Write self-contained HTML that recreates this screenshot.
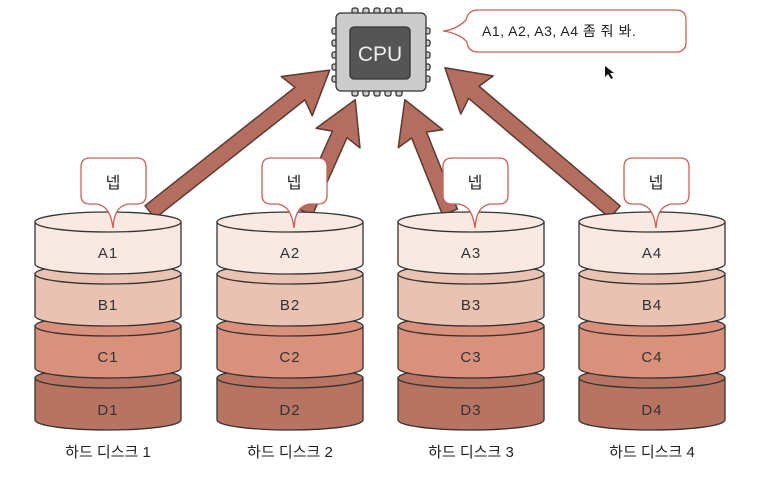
<!DOCTYPE html>
<html><head><meta charset="utf-8"><style>
body{margin:0;background:#fff;}
svg{display:block;font-family:"Liberation Sans","Noto Sans CJK KR",sans-serif;}
</style></head><body>
<svg width="774" height="478" viewBox="0 0 774 478" xmlns="http://www.w3.org/2000/svg">
<g fill="#b46e5f" stroke="#5a3a32" stroke-width="1.5" stroke-linejoin="round">
<g transform="translate(150,212) rotate(-38.3)"><polygon points="0,-8 191,-8 187,-25 229,0 187,25 191,8 0,8"/></g>
<g transform="translate(305,212) rotate(-65.9)"><polygon points="0,-8 85,-8 81,-24 123,0 81,24 85,8 0,8"/></g>
<g transform="translate(450,212) rotate(-111.9)"><polygon points="0,-8 83,-8 79,-24 121,0 79,24 83,8 0,8"/></g>
<g transform="translate(615,212) rotate(-139.7)"><polygon points="0,-8 185,-8 181,-25 223,0 181,25 185,8 0,8"/></g>
</g>
<g stroke="#333" stroke-width="1.3">
<g fill="#ccc">
<rect x="352" y="8" width="6" height="7" rx="2"/><rect x="363" y="8" width="6" height="7" rx="2"/><rect x="374" y="8" width="6" height="7" rx="2"/><rect x="385" y="8" width="6" height="7" rx="2"/><rect x="396" y="8" width="6" height="7" rx="2"/>
<rect x="352" y="89" width="6" height="7" rx="2"/><rect x="363" y="89" width="6" height="7" rx="2"/><rect x="374" y="89" width="6" height="7" rx="2"/><rect x="385" y="89" width="6" height="7" rx="2"/><rect x="396" y="89" width="6" height="7" rx="2"/>
<rect x="332" y="28" width="7" height="6" rx="2"/><rect x="332" y="40" width="7" height="6" rx="2"/><rect x="332" y="52" width="7" height="6" rx="2"/><rect x="332" y="64" width="7" height="6" rx="2"/><rect x="332" y="76" width="7" height="6" rx="2"/>
<rect x="423" y="28" width="7" height="6" rx="2"/><rect x="423" y="40" width="7" height="6" rx="2"/><rect x="423" y="52" width="7" height="6" rx="2"/><rect x="423" y="64" width="7" height="6" rx="2"/><rect x="423" y="76" width="7" height="6" rx="2"/>
<rect x="336" y="13" width="90" height="78" rx="5"/>
</g>
<rect x="350" y="27" width="60" height="52" rx="4" fill="#555"/>
</g>
<text x="380" y="61" font-size="21" fill="#eee" text-anchor="middle">CPU</text>
<path d="M443,31 C452,30 460,26 466,20 Q468,10 478,10 L676,10 Q686,10 686,20 L686,42 Q686,52 676,52 L478,52 Q468,52 467,42 C462,36 452,32 443,31 Z" fill="#fff" stroke="#c9605a" stroke-width="1.3"/>
<text x="482" y="36" font-size="14" fill="#222" letter-spacing="0.5">A1, A2, A3, A4 좀 줘 봐.</text>
<path d="M605,66 l0,11 l3,-3 l3,5 l2,-1 l-3,-5 l4,0 z" fill="#111"/>
<g stroke="#333" stroke-width="1.3">
<g transform="translate(35,0)">
<path d="M0,378 L0,420 A73,10 0 0 0 146,420 L146,378 Z" fill="#b87462"/><ellipse cx="73" cy="378" rx="73" ry="10" fill="#b87462"/>
<path d="M0,326 L0,368 A73,10 0 0 0 146,368 L146,326 Z" fill="#d9917c"/><ellipse cx="73" cy="326" rx="73" ry="10" fill="#d9917c"/>
<path d="M0,274 L0,316 A73,10 0 0 0 146,316 L146,274 Z" fill="#e9c2b1"/><ellipse cx="73" cy="274" rx="73" ry="10" fill="#e9c2b1"/>
<path d="M0,222 L0,264 A73,10 0 0 0 146,264 L146,222 Z" fill="#f8e9e3"/><ellipse cx="73" cy="222" rx="73" ry="10" fill="#f8e9e3"/>
</g>
<g transform="translate(217,0)">
<path d="M0,378 L0,420 A73,10 0 0 0 146,420 L146,378 Z" fill="#b87462"/><ellipse cx="73" cy="378" rx="73" ry="10" fill="#b87462"/>
<path d="M0,326 L0,368 A73,10 0 0 0 146,368 L146,326 Z" fill="#d9917c"/><ellipse cx="73" cy="326" rx="73" ry="10" fill="#d9917c"/>
<path d="M0,274 L0,316 A73,10 0 0 0 146,316 L146,274 Z" fill="#e9c2b1"/><ellipse cx="73" cy="274" rx="73" ry="10" fill="#e9c2b1"/>
<path d="M0,222 L0,264 A73,10 0 0 0 146,264 L146,222 Z" fill="#f8e9e3"/><ellipse cx="73" cy="222" rx="73" ry="10" fill="#f8e9e3"/>
</g>
<g transform="translate(398,0)">
<path d="M0,378 L0,420 A73,10 0 0 0 146,420 L146,378 Z" fill="#b87462"/><ellipse cx="73" cy="378" rx="73" ry="10" fill="#b87462"/>
<path d="M0,326 L0,368 A73,10 0 0 0 146,368 L146,326 Z" fill="#d9917c"/><ellipse cx="73" cy="326" rx="73" ry="10" fill="#d9917c"/>
<path d="M0,274 L0,316 A73,10 0 0 0 146,316 L146,274 Z" fill="#e9c2b1"/><ellipse cx="73" cy="274" rx="73" ry="10" fill="#e9c2b1"/>
<path d="M0,222 L0,264 A73,10 0 0 0 146,264 L146,222 Z" fill="#f8e9e3"/><ellipse cx="73" cy="222" rx="73" ry="10" fill="#f8e9e3"/>
</g>
<g transform="translate(579,0)">
<path d="M0,378 L0,420 A73,10 0 0 0 146,420 L146,378 Z" fill="#b87462"/><ellipse cx="73" cy="378" rx="73" ry="10" fill="#b87462"/>
<path d="M0,326 L0,368 A73,10 0 0 0 146,368 L146,326 Z" fill="#d9917c"/><ellipse cx="73" cy="326" rx="73" ry="10" fill="#d9917c"/>
<path d="M0,274 L0,316 A73,10 0 0 0 146,316 L146,274 Z" fill="#e9c2b1"/><ellipse cx="73" cy="274" rx="73" ry="10" fill="#e9c2b1"/>
<path d="M0,222 L0,264 A73,10 0 0 0 146,264 L146,222 Z" fill="#f8e9e3"/><ellipse cx="73" cy="222" rx="73" ry="10" fill="#f8e9e3"/>
</g>
</g>
<g fill="#fff" stroke="#c9605a" stroke-width="1.3">
<path d="M90,158 L137,158 Q146,158 146,167 L146,195 Q146,204 137,204 L128,204 C119,206 114,212 113,228 C111,212 106,206 97,204 L90,204 Q81,204 81,195 L81,167 Q81,158 90,158 Z"/>
<path d="M271,158 L318,158 Q327,158 327,167 L327,195 Q327,204 318,204 L309,204 C300,206 295,212 294,228 C292,212 287,206 278,204 L271,204 Q262,204 262,195 L262,167 Q262,158 271,158 Z"/>
<path d="M452,158 L499,158 Q508,158 508,167 L508,195 Q508,204 499,204 L490,204 C481,206 476,212 475,228 C473,212 468,206 459,204 L452,204 Q443,204 443,195 L443,167 Q443,158 452,158 Z"/>
<path d="M633,158 L680,158 Q689,158 689,167 L689,195 Q689,204 680,204 L671,204 C662,206 657,212 656,228 C654,212 649,206 640,204 L633,204 Q624,204 624,195 L624,167 Q624,158 633,158 Z"/>
</g>
<g font-size="16" fill="#222" text-anchor="middle">
<text x="113" y="188">넵</text><text x="294" y="188">넵</text><text x="475" y="188">넵</text><text x="656" y="188">넵</text>
</g>
<g font-size="15" fill="#333" text-anchor="middle" letter-spacing="1">
<text x="108" y="258">A1</text><text x="108" y="310">B1</text><text x="108" y="362">C1</text><text x="108" y="415">D1</text>
<text x="290" y="258">A2</text><text x="290" y="310">B2</text><text x="290" y="362">C2</text><text x="290" y="415">D2</text>
<text x="471" y="258">A3</text><text x="471" y="310">B3</text><text x="471" y="362">C3</text><text x="471" y="415">D3</text>
<text x="652" y="258">A4</text><text x="652" y="310">B4</text><text x="652" y="362">C4</text><text x="652" y="415">D4</text>
</g>
<g font-size="15" fill="#222" text-anchor="middle">
<text x="108" y="457">하드 디스크 1</text><text x="290" y="457">하드 디스크 2</text><text x="471" y="457">하드 디스크 3</text><text x="652" y="457">하드 디스크 4</text>
</g>
</svg>
</body></html>
